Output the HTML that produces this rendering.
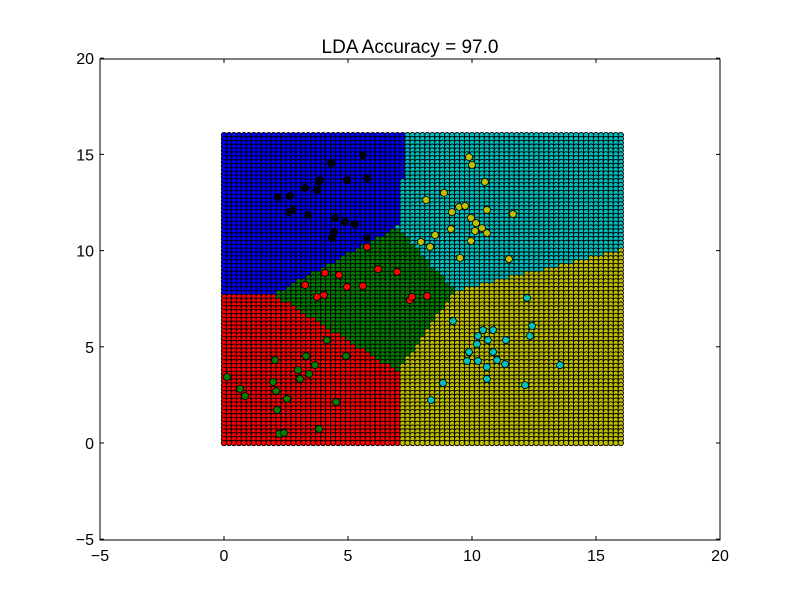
<!DOCTYPE html>
<html><head><meta charset="utf-8"><style>
body{margin:0;background:#fff}
svg{display:block;font-family:"Liberation Sans","DejaVu Sans",sans-serif}
</style></head><body>
<svg id="chart" width="800" height="600" viewBox="0 0 800 600" xmlns="http://www.w3.org/2000/svg">
<rect width="800" height="600" fill="#fff"/>
<text x="410" y="53" font-size="19" text-anchor="middle">LDA Accuracy = 97.0</text>
<g id="regions"></g>
<g id="points"></g>
<rect x="100" y="59" width="620" height="481" fill="none" stroke="#000" stroke-width="1"/>
<g id="axes"></g>
</svg>
<script>
const xTicks=[-5,0,5,10,15,20];
const yTicks=[-5,0,5,10,15,20];
const gridStep=0.2;
const gridMax=16;
const regionBlue=[[0,16],[7.4,16],[7.0,11.2],[2.0,7.7],[0,7.8]];
const regionGreen=[[7.0,11.2],[9.3,7.9],[7.0,3.7],[2.0,7.7]];
const regionRed=[[0,7.8],[2.0,7.7],[7.0,3.7],[7.1,0],[0,0]];
const regionCyan=[[7.4,16],[16,16],[16,10],[9.3,7.9],[7.0,11.2]];
const regionYellow=[[9.3,7.9],[16,10],[16,0],[7.1,0],[7.0,3.7]];
const blackX=[4.31,3.83,2.18,2.66,3.27,3.75,3.87,2.62,3.39,4.48,4.88,5.28,4.96,5.6,5.77,5.77,4.35,4.44,2.78];
const blackY=[14.55,13.57,12.79,12.84,13.25,13.15,13.67,12.0,11.85,11.7,11.49,11.38,13.67,14.97,13.77,10.65,10.65,10.97,12.1];
const redX=[5.77,4.07,4.64,3.27,4.03,3.75,4.96,5.6,6.21,6.98,7.5,7.58,8.19];
const redY=[10.19,8.84,8.73,8.21,7.69,7.59,8.11,8.16,9.04,8.89,7.43,7.59,7.64];
const yellowX=[9.88,10.0,8.87,10.52,8.15,9.48,9.72,9.19,10.6,11.65,9.96,10.16,9.15,10.12,10.4,10.6,8.51,9.96,7.94,8.31,9.52,11.49];
const yellowY=[14.86,14.45,13.0,13.57,12.63,12.27,12.32,12.0,12.11,11.9,11.7,11.43,11.12,11.02,11.17,10.91,10.81,10.5,10.45,10.19,9.62,9.56];
const cyanX=[12.22,9.23,12.42,10.44,10.85,10.24,11.37,10.64,10.2,12.34,9.88,10.85,9.8,10.24,11.01,11.33,10.6,13.55,10.6,12.14,8.83,8.35];
const cyanY=[7.54,6.34,6.08,5.87,5.87,5.56,5.35,5.35,5.14,5.56,4.73,4.73,4.26,4.26,4.31,4.1,3.95,4.05,3.33,3.01,3.12,2.23];
const greenX=[2.06,3.31,4.15,4.92,3.67,2.98,3.43,3.06,0.12,0.65,0.85,1.98,2.1,2.54,2.14,4.52,3.83,2.22,2.42];
const greenY=[4.31,4.52,5.35,4.52,4.05,3.79,3.59,3.33,3.43,2.81,2.44,3.17,2.7,2.29,1.72,2.13,0.73,0.47,0.52];

const NS='http://www.w3.org/2000/svg';
const X=v=>224+(v)*24.8;
const Y=v=>443-(v)*19.24;
function mk(t,a,p){const e=document.createElementNS(NS,t);for(const k in a)e.setAttribute(k,a[k]);p.appendChild(e);return e;}
function inPoly(x,y,poly){let c=false;for(let i=0,j=poly.length-1;i<poly.length;j=i++){const [xi,yi]=poly[i],[xj,yj]=poly[j];if(((yi>y)!=(yj>y))&&(x<(xj-xi)*(y-yi)/(yj-yi)+xi))c=!c;}return c;}
const regs=[[regionBlue,'#0000ff'],[regionGreen,'#008000'],[regionRed,'#ff0000'],[regionCyan,'#00bfbf'],[regionYellow,'#bfbf00']];
const rg=document.getElementById('regions');
const n=Math.round(gridMax/gridStep);
for(let j=n;j>=0;j--){for(let i=0;i<=n;i++){
  const x=i*gridStep,y=j*gridStep;
  const tx=x<gridMax/2?x+1e-4:x-1e-4, ty=y<gridMax/2?y+1e-4:y-1e-4;
  let col='#bfbf00';
  for(const [p,c] of regs){if(inPoly(tx,ty,p)){col=c;break;}}
  const c=mk('circle',{cx:X(x),cy:Y(y),r:2.7,fill:col,stroke:'#000','stroke-width':0.9},rg);
  
  
}}
const pg=document.getElementById('points');
[[blackX,blackY,'#000000','class-black'],[redX,redY,'#ff0000','class-red'],[yellowX,yellowY,'#bfbf00','class-yellow'],[cyanX,cyanY,'#00bfbf','class-cyan'],[greenX,greenY,'#008000','class-green']].forEach(([xs,ys,col,nm])=>{
  xs.forEach((v,k)=>{
    const c=mk('circle',{cx:X(v),cy:Y(ys[k]),r:3.5,fill:col,stroke:'#000','stroke-width':0.8},pg);
    
    
  });
});
const ax=document.getElementById('axes');
xTicks.forEach(t=>{
  const px=X(t);
  mk('line',{x1:px,x2:px,y1:540,y2:536,stroke:'#000'},ax);
  mk('line',{x1:px,x2:px,y1:59,y2:63,stroke:'#000'},ax);
  const tx=mk('text',{x:px,y:561,'font-size':16,'text-anchor':'middle'},ax);
  tx.textContent=String(t).replace('-','\u2212');
  
  
});
yTicks.forEach(t=>{
  const py=Y(t);
  mk('line',{x1:100,x2:104,y1:py,y2:py,stroke:'#000'},ax);
  mk('line',{x1:720,x2:716,y1:py,y2:py,stroke:'#000'},ax);
  const tx=mk('text',{x:94,y:py+6,'font-size':16,'text-anchor':'end'},ax);
  tx.textContent=String(t).replace('-','\u2212');
  
  
});
</script>
</body></html>
